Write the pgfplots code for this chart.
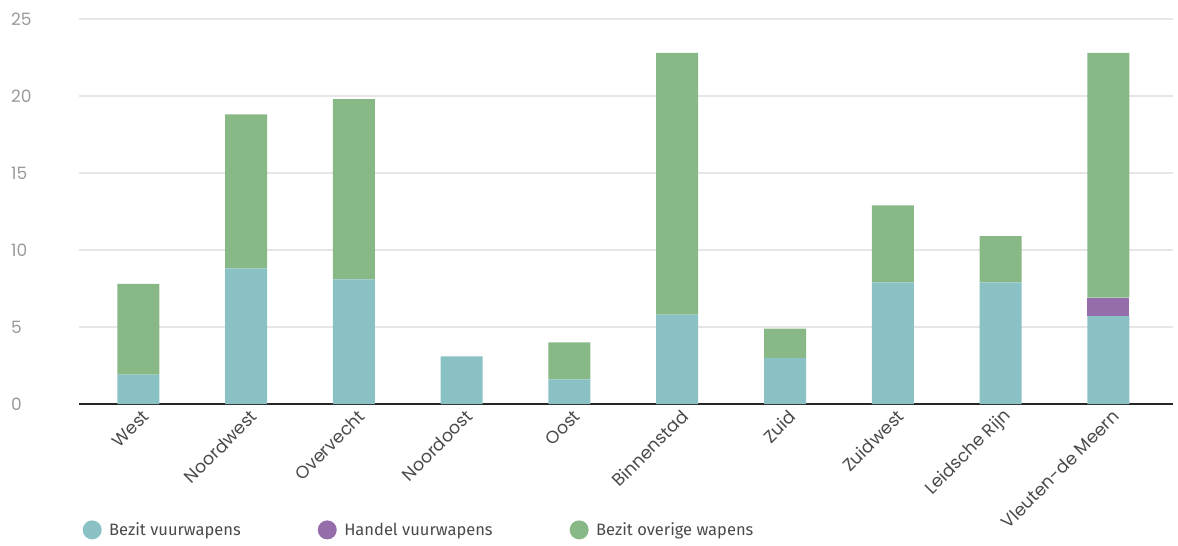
\documentclass[border=0pt]{standalone}
\usepackage{pgfplots}
\pgfplotsset{compat=1.18}
\usepackage{fontspec}
\setmainfont{Poppins}
\newfontfamily\legfont{Fira Sans}
\definecolor{cteal}{HTML}{89C1C4}
\definecolor{cpurple}{HTML}{946DAA}
\definecolor{cgreen}{HTML}{87B886}
\definecolor{cgrid}{HTML}{E6E6E6}
\definecolor{ctick}{HTML}{9A9A9A}
\definecolor{clab}{HTML}{4A4A4A}
\begin{document}
\begin{tikzpicture}
\path[use as bounding box] (-79pt,-142pt) rectangle (1099pt,404pt);
\begin{axis}[
  at={(0pt,0pt)}, anchor=south west,
  scale only axis, width=1094pt, height=385pt,
  ymin=0, ymax=25, ytick={0,5,...,25},
  xmin=-0.55, xmax=9.6,
  ybar stacked, bar width=42pt,
  xtick={0,...,9},
  xticklabels={West,Noordwest,Overvecht,Noordoost,Oost,Binnenstad,Zuid,Zuidwest,Leidsche Rijn,Vleuten-de Meern},
  axis lines*=left,
  y axis line style={draw=none},
  x axis line style={draw=black!85, line width=1.2pt, -},
  major tick length=0pt,
  /pgf/number format/assume math mode=true,
  ymajorgrids, grid style={draw=cgrid, line width=1.2pt},
  yticklabel style={font=\fontsize{17}{17}\selectfont, color=ctick, anchor=west, xshift=-68pt, inner sep=0pt},
  xticklabel style={font=\fontsize{17.5}{17.5}\selectfont, color=clab, rotate=45, anchor=east, inner sep=0pt, xshift=-1pt, yshift=-12pt},
  legend columns=3,
  legend style={at={(axis description cs:0,-0.327)}, anchor=west, xshift=0.5pt, draw=none, fill=none,
     font=\legfont\fontsize{16.5}{16.5}\selectfont, text=clab,
     nodes={inner sep=0pt},
     /tikz/every odd column/.append style={column sep=7.5pt},
     /tikz/every even column/.append style={column sep=77pt}},
  legend image code/.code={\fill[#1, draw=none] (0pt,0pt) circle (9.5pt);},
]
\addplot[fill=cteal, draw=none] coordinates {(0,1.9) (1,8.8) (2,8.1) (3,3.1) (4,1.6) (5,5.8) (6,3.0) (7,7.9) (8,7.9) (9,5.7)};
\addplot[fill=cpurple, draw=none] coordinates {(0,0) (1,0) (2,0) (3,0) (4,0) (5,0) (6,0) (7,0) (8,0) (9,1.2)};
\addplot[fill=cgreen, draw=none] coordinates {(0,5.9) (1,10.0) (2,11.7) (3,0) (4,2.4) (5,17.0) (6,1.9) (7,5.0) (8,3.0) (9,15.9)};
\legend{Bezit vuurwapens,Handel vuurwapens,Bezit overige wapens}
\end{axis}
\end{tikzpicture}
\end{document}
